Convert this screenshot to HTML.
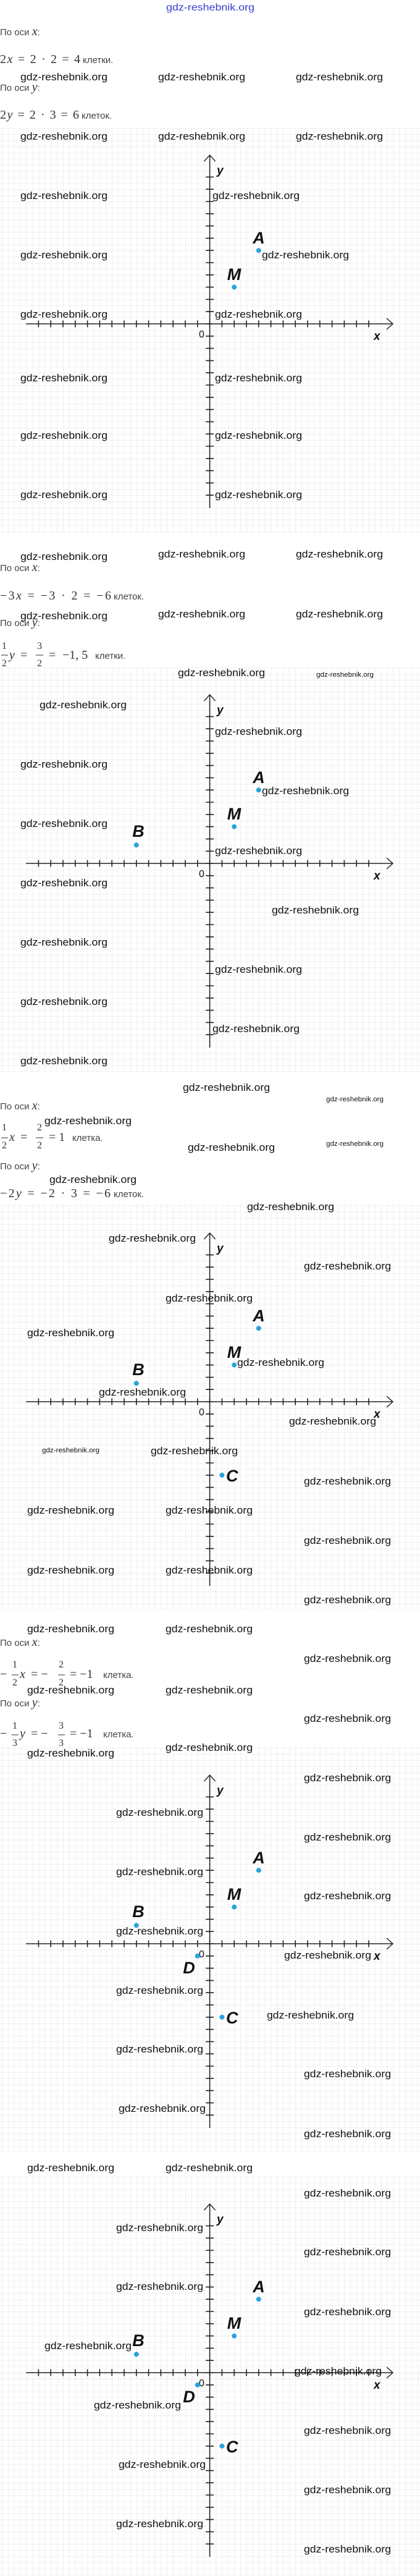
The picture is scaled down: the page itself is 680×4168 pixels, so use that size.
<!DOCTYPE html>
<html><head><meta charset="utf-8"><style>
html,body{margin:0;padding:0;background:#fff;}
svg{display:block;}
.w{font-family:"Liberation Sans",sans-serif;font-size:17px;fill:#111;}
.ws{font-family:"Liberation Sans",sans-serif;font-size:11px;fill:#111;}
.t{font-family:"Liberation Sans",sans-serif;font-size:15px;fill:#444;}
.m{font-family:"Liberation Serif",serif;font-size:20px;fill:#333;}
.f{font-family:"Liberation Serif",serif;font-size:16px;fill:#333;}
.i{font-style:italic;}
.L{font-family:"Liberation Sans Narrow","Liberation Sans",sans-serif;font-weight:bold;font-style:italic;font-size:27px;fill:#111;}
.al{font-family:"Liberation Sans",sans-serif;font-weight:bold;font-style:italic;font-size:19px;fill:#111;}
.z{font-family:"Liberation Sans",sans-serif;font-size:16px;fill:#111;}
</style></head><body>
<svg width="680" height="4168" viewBox="0 0 680 4168" xmlns="http://www.w3.org/2000/svg">
<defs>
<pattern id="g" patternUnits="userSpaceOnUse" x="339.6" y="0" width="9.9" height="9.9">
<path d="M0 0.3H9.9M0.3 0V9.9" stroke="#ebebeb" stroke-width="1" fill="none"/>
</pattern>
<g id="ax">
<line x1="42" y1="0" x2="636" y2="0" stroke="#222" stroke-width="1.6"/>
<polyline points="626,-9 636,0 626,9" fill="none" stroke="#222" stroke-width="1.4"/>
<line x1="61.6" y1="0" x2="598" y2="0" stroke="#222" stroke-width="11" stroke-dasharray="1.6 18.2"/>
<line x1="339.6" y1="-273" x2="339.6" y2="298" stroke="#222" stroke-width="1.6"/>
<polyline points="330.6,-263 339.6,-273 348.6,-263" fill="none" stroke="#222" stroke-width="1.4"/>
<line x1="339.6" y1="-238.4" x2="339.6" y2="278.2" stroke="#222" stroke-width="13" stroke-dasharray="1.6 18.2"/>
<text class="al" x="351" y="-242">y</text>
<text class="al" x="605" y="26">x</text>
<text class="z" x="322" y="22">0</text>
</g>
</defs>

<text x="269" y="17" font-family="Liberation Sans,sans-serif" font-size="16" fill="#3a3ad0" textLength="143" lengthAdjust="spacingAndGlyphs">gdz-reshebnik.org</text>

<text class="t" x="0" y="57">По оси <tspan class="m i">x</tspan>:</text>
<text class="m" x="0" y="102" textLength="130" lengthAdjust="spacing">2<tspan class="i">x</tspan> = 2 · 2 = 4</text>
<text class="t" x="134" y="102">клетки.</text>
<text class="t" x="0" y="147">По оси <tspan class="m i">y</tspan>:</text>
<text class="m" x="0" y="192" textLength="128" lengthAdjust="spacing">2<tspan class="i">y</tspan> = 2 · 3 = 6</text>
<text class="t" x="132" y="192">клеток.</text>

<g transform="translate(0,524)">
<rect x="0" y="-317" width="680" height="656" fill="url(#g)"/>
<use href="#ax"/>
<circle cx="418.8" cy="-118.8" r="4" fill="#29a3dc"/>
<circle cx="379.2" cy="-59.4" r="4" fill="#29a3dc"/>
<text class="L" x="419" y="-130" text-anchor="middle">A</text>
<text class="L" x="379" y="-71" text-anchor="middle">M</text>
</g>

<text class="t" x="0" y="924">По оси <tspan class="m i">x</tspan>:</text>
<text class="m" x="0" y="970" textLength="180" lengthAdjust="spacing">−3<tspan class="i">x</tspan> = −3 · 2 = −6</text>
<text class="t" x="184" y="970">клеток.</text>
<text class="t" x="0" y="1013">По оси <tspan class="m i">y</tspan>:</text>
<text class="f" x="3" y="1050">1</text><line x1="2" y1="1060" x2="13" y2="1060" stroke="#333" stroke-width="1"/><text class="f" x="3" y="1078">2</text>
<text class="m i" x="15" y="1066">y</text><text class="m" x="33" y="1066">=</text>
<text class="f" x="60" y="1050">3</text><line x1="58" y1="1060" x2="70" y2="1060" stroke="#333" stroke-width="1"/><text class="f" x="60" y="1078">2</text>
<text class="m" x="79" y="1066">=</text><text class="m" x="101" y="1066">−1, 5</text>
<text class="t" x="154" y="1066">клетки.</text>

<g transform="translate(0,1397)">
<rect x="0" y="-317" width="680" height="655" fill="url(#g)"/>
<use href="#ax"/>
<circle cx="418.8" cy="-118.8" r="4" fill="#29a3dc"/>
<circle cx="379.2" cy="-59.4" r="4" fill="#29a3dc"/>
<circle cx="220.8" cy="-29.7" r="4" fill="#29a3dc"/>
<text class="L" x="419" y="-130" text-anchor="middle">A</text>
<text class="L" x="379" y="-71" text-anchor="middle">M</text>
<text class="L" x="224" y="-43" text-anchor="middle">B</text>
</g>

<text class="t" x="0" y="1795">По оси <tspan class="m i">x</tspan>:</text>
<text class="f" x="3" y="1829">1</text><line x1="2" y1="1841" x2="13" y2="1841" stroke="#333" stroke-width="1"/><text class="f" x="3" y="1858">2</text>
<text class="m i" x="15" y="1846">x</text><text class="m" x="33" y="1846">=</text>
<text class="f" x="60" y="1829">2</text><line x1="58" y1="1841" x2="70" y2="1841" stroke="#333" stroke-width="1"/><text class="f" x="60" y="1858">2</text>
<text class="m" x="79" y="1846">= 1</text>
<text class="t" x="117" y="1846">клетка.</text>
<text class="t" x="0" y="1892">По оси <tspan class="m i">y</tspan>:</text>
<text class="m" x="0" y="1937" textLength="179" lengthAdjust="spacing">−2<tspan class="i">y</tspan> = −2 · 3 = −6</text>
<text class="t" x="184" y="1937">клеток.</text>

<g transform="translate(0,2268)">
<rect x="0" y="-321" width="680" height="658" fill="url(#g)"/>
<use href="#ax"/>
<circle cx="418.8" cy="-118.8" r="4" fill="#29a3dc"/>
<circle cx="379.2" cy="-59.4" r="4" fill="#29a3dc"/>
<circle cx="220.8" cy="-29.7" r="4" fill="#29a3dc"/>
<circle cx="359.4" cy="118.8" r="4" fill="#29a3dc"/>
<text class="L" x="419" y="-130" text-anchor="middle">A</text>
<text class="L" x="379" y="-71" text-anchor="middle">M</text>
<text class="L" x="224" y="-43" text-anchor="middle">B</text>
<text class="L" x="366" y="129">C</text>
</g>

<text class="t" x="0" y="2663">По оси <tspan class="m i">x</tspan>:</text>
<text class="m" x="0" y="2715">−</text>
<text class="f" x="20" y="2698">1</text><line x1="19" y1="2710" x2="30" y2="2710" stroke="#333" stroke-width="1"/><text class="f" x="20" y="2727">2</text>
<text class="m i" x="32" y="2715">x</text><text class="m" x="50" y="2715">= −</text>
<text class="f" x="95" y="2698">2</text><line x1="94" y1="2710" x2="105" y2="2710" stroke="#333" stroke-width="1"/><text class="f" x="95" y="2727">2</text>
<text class="m" x="113" y="2715">= −1</text>
<text class="t" x="167" y="2715">клетка.</text>
<text class="t" x="0" y="2761">По оси <tspan class="m i">y</tspan>:</text>
<text class="m" x="0" y="2811">−</text>
<text class="f" x="20" y="2797">1</text><line x1="19" y1="2807" x2="30" y2="2807" stroke="#333" stroke-width="1"/><text class="f" x="20" y="2825">3</text>
<text class="m i" x="32" y="2811">y</text><text class="m" x="50" y="2811">= −</text>
<text class="f" x="95" y="2797">3</text><line x1="94" y1="2807" x2="105" y2="2807" stroke="#333" stroke-width="1"/><text class="f" x="95" y="2825">3</text>
<text class="m" x="113" y="2811">= −1</text>
<text class="t" x="167" y="2811">клетка.</text>

<g transform="translate(0,3145)">
<rect x="0" y="-320" width="680" height="657" fill="url(#g)"/>
<use href="#ax"/>
<circle cx="418.8" cy="-118.8" r="4" fill="#29a3dc"/>
<circle cx="379.2" cy="-59.4" r="4" fill="#29a3dc"/>
<circle cx="220.8" cy="-29.7" r="4" fill="#29a3dc"/>
<circle cx="359.4" cy="118.8" r="4" fill="#29a3dc"/>
<circle cx="319.8" cy="19.8" r="4" fill="#29a3dc"/>
<text class="L" x="419" y="-130" text-anchor="middle">A</text>
<text class="L" x="379" y="-71" text-anchor="middle">M</text>
<text class="L" x="224" y="-43" text-anchor="middle">B</text>
<text class="L" x="366" y="129">C</text>
<text class="L" x="306" y="48" text-anchor="middle">D</text>
</g>

<g transform="translate(0,3839)">
<rect x="0" y="-318" width="680" height="330" fill="url(#g)"/>
<rect x="0" y="0" width="680" height="329" fill="url(#g)"/>
<use href="#ax"/>
<circle cx="418.8" cy="-118.8" r="4" fill="#29a3dc"/>
<circle cx="379.2" cy="-59.4" r="4" fill="#29a3dc"/>
<circle cx="220.8" cy="-29.7" r="4" fill="#29a3dc"/>
<circle cx="359.4" cy="118.8" r="4" fill="#29a3dc"/>
<circle cx="319.8" cy="19.8" r="4" fill="#29a3dc"/>
<text class="L" x="419" y="-130" text-anchor="middle">A</text>
<text class="L" x="379" y="-71" text-anchor="middle">M</text>
<text class="L" x="224" y="-43" text-anchor="middle">B</text>
<text class="L" x="366" y="129">C</text>
<text class="L" x="306" y="48" text-anchor="middle">D</text>
</g>

<g>
<text class="w" textLength="141" lengthAdjust="spacingAndGlyphs" x="33" y="130">gdz-reshebnik.org</text>
<text class="w" textLength="141" lengthAdjust="spacingAndGlyphs" x="256" y="130">gdz-reshebnik.org</text>
<text class="w" textLength="141" lengthAdjust="spacingAndGlyphs" x="479" y="130">gdz-reshebnik.org</text>
<text class="w" textLength="141" lengthAdjust="spacingAndGlyphs" x="33" y="226">gdz-reshebnik.org</text>
<text class="w" textLength="141" lengthAdjust="spacingAndGlyphs" x="256" y="226">gdz-reshebnik.org</text>
<text class="w" textLength="141" lengthAdjust="spacingAndGlyphs" x="479" y="226">gdz-reshebnik.org</text>
<text class="w" textLength="141" lengthAdjust="spacingAndGlyphs" x="33" y="322">gdz-reshebnik.org</text>
<text class="w" textLength="141" lengthAdjust="spacingAndGlyphs" x="344" y="322">gdz-reshebnik.org</text>
<text class="w" textLength="141" lengthAdjust="spacingAndGlyphs" x="33" y="418">gdz-reshebnik.org</text>
<text class="w" textLength="141" lengthAdjust="spacingAndGlyphs" x="424" y="418">gdz-reshebnik.org</text>
<text class="w" textLength="141" lengthAdjust="spacingAndGlyphs" x="33" y="514">gdz-reshebnik.org</text>
<text class="w" textLength="141" lengthAdjust="spacingAndGlyphs" x="348" y="514">gdz-reshebnik.org</text>
<text class="w" textLength="141" lengthAdjust="spacingAndGlyphs" x="33" y="617">gdz-reshebnik.org</text>
<text class="w" textLength="141" lengthAdjust="spacingAndGlyphs" x="348" y="617">gdz-reshebnik.org</text>
<text class="w" textLength="141" lengthAdjust="spacingAndGlyphs" x="33" y="710">gdz-reshebnik.org</text>
<text class="w" textLength="141" lengthAdjust="spacingAndGlyphs" x="348" y="710">gdz-reshebnik.org</text>
<text class="w" textLength="141" lengthAdjust="spacingAndGlyphs" x="33" y="806">gdz-reshebnik.org</text>
<text class="w" textLength="141" lengthAdjust="spacingAndGlyphs" x="348" y="806">gdz-reshebnik.org</text>
<text class="w" textLength="141" lengthAdjust="spacingAndGlyphs" x="33" y="906">gdz-reshebnik.org</text>
<text class="w" textLength="141" lengthAdjust="spacingAndGlyphs" x="256" y="902">gdz-reshebnik.org</text>
<text class="w" textLength="141" lengthAdjust="spacingAndGlyphs" x="479" y="902">gdz-reshebnik.org</text>
<text class="w" textLength="141" lengthAdjust="spacingAndGlyphs" x="33" y="1002">gdz-reshebnik.org</text>
<text class="w" textLength="141" lengthAdjust="spacingAndGlyphs" x="256" y="999">gdz-reshebnik.org</text>
<text class="w" textLength="141" lengthAdjust="spacingAndGlyphs" x="479" y="999">gdz-reshebnik.org</text>
<text class="w" textLength="141" lengthAdjust="spacingAndGlyphs" x="288" y="1094">gdz-reshebnik.org</text>
<text class="ws" textLength="93" lengthAdjust="spacingAndGlyphs" x="512" y="1095">gdz-reshebnik.org</text>
<text class="w" textLength="141" lengthAdjust="spacingAndGlyphs" x="64" y="1146">gdz-reshebnik.org</text>
<text class="w" textLength="141" lengthAdjust="spacingAndGlyphs" x="348" y="1189">gdz-reshebnik.org</text>
<text class="w" textLength="141" lengthAdjust="spacingAndGlyphs" x="33" y="1242">gdz-reshebnik.org</text>
<text class="w" textLength="141" lengthAdjust="spacingAndGlyphs" x="424" y="1285">gdz-reshebnik.org</text>
<text class="w" textLength="141" lengthAdjust="spacingAndGlyphs" x="33" y="1338">gdz-reshebnik.org</text>
<text class="w" textLength="141" lengthAdjust="spacingAndGlyphs" x="348" y="1382">gdz-reshebnik.org</text>
<text class="w" textLength="141" lengthAdjust="spacingAndGlyphs" x="33" y="1434">gdz-reshebnik.org</text>
<text class="w" textLength="141" lengthAdjust="spacingAndGlyphs" x="440" y="1478">gdz-reshebnik.org</text>
<text class="w" textLength="141" lengthAdjust="spacingAndGlyphs" x="33" y="1530">gdz-reshebnik.org</text>
<text class="w" textLength="141" lengthAdjust="spacingAndGlyphs" x="348" y="1574">gdz-reshebnik.org</text>
<text class="w" textLength="141" lengthAdjust="spacingAndGlyphs" x="33" y="1626">gdz-reshebnik.org</text>
<text class="w" textLength="141" lengthAdjust="spacingAndGlyphs" x="344" y="1670">gdz-reshebnik.org</text>
<text class="w" textLength="141" lengthAdjust="spacingAndGlyphs" x="33" y="1722">gdz-reshebnik.org</text>
<text class="w" textLength="141" lengthAdjust="spacingAndGlyphs" x="296" y="1765">gdz-reshebnik.org</text>
<text class="ws" textLength="93" lengthAdjust="spacingAndGlyphs" x="528" y="1782">gdz-reshebnik.org</text>
<text class="w" textLength="141" lengthAdjust="spacingAndGlyphs" x="72" y="1819">gdz-reshebnik.org</text>
<text class="w" textLength="141" lengthAdjust="spacingAndGlyphs" x="304" y="1862">gdz-reshebnik.org</text>
<text class="ws" textLength="93" lengthAdjust="spacingAndGlyphs" x="528" y="1854">gdz-reshebnik.org</text>
<text class="w" textLength="141" lengthAdjust="spacingAndGlyphs" x="80" y="1914">gdz-reshebnik.org</text>
<text class="w" textLength="141" lengthAdjust="spacingAndGlyphs" x="400" y="1958">gdz-reshebnik.org</text>
<text class="w" textLength="141" lengthAdjust="spacingAndGlyphs" x="176" y="2009">gdz-reshebnik.org</text>
<text class="w" textLength="141" lengthAdjust="spacingAndGlyphs" x="492" y="2054">gdz-reshebnik.org</text>
<text class="w" textLength="141" lengthAdjust="spacingAndGlyphs" x="268" y="2106">gdz-reshebnik.org</text>
<text class="w" textLength="141" lengthAdjust="spacingAndGlyphs" x="44" y="2162">gdz-reshebnik.org</text>
<text class="w" textLength="141" lengthAdjust="spacingAndGlyphs" x="384" y="2210">gdz-reshebnik.org</text>
<text class="w" textLength="141" lengthAdjust="spacingAndGlyphs" x="160" y="2258">gdz-reshebnik.org</text>
<text class="w" textLength="141" lengthAdjust="spacingAndGlyphs" x="468" y="2305">gdz-reshebnik.org</text>
<text class="ws" textLength="93" lengthAdjust="spacingAndGlyphs" x="68" y="2350">gdz-reshebnik.org</text>
<text class="w" textLength="141" lengthAdjust="spacingAndGlyphs" x="244" y="2353">gdz-reshebnik.org</text>
<text class="w" textLength="141" lengthAdjust="spacingAndGlyphs" x="492" y="2402">gdz-reshebnik.org</text>
<text class="w" textLength="141" lengthAdjust="spacingAndGlyphs" x="44" y="2449">gdz-reshebnik.org</text>
<text class="w" textLength="141" lengthAdjust="spacingAndGlyphs" x="268" y="2449">gdz-reshebnik.org</text>
<text class="w" textLength="141" lengthAdjust="spacingAndGlyphs" x="492" y="2498">gdz-reshebnik.org</text>
<text class="w" textLength="141" lengthAdjust="spacingAndGlyphs" x="44" y="2546">gdz-reshebnik.org</text>
<text class="w" textLength="141" lengthAdjust="spacingAndGlyphs" x="268" y="2546">gdz-reshebnik.org</text>
<text class="w" textLength="141" lengthAdjust="spacingAndGlyphs" x="492" y="2594">gdz-reshebnik.org</text>
<text class="w" textLength="141" lengthAdjust="spacingAndGlyphs" x="44" y="2641">gdz-reshebnik.org</text>
<text class="w" textLength="141" lengthAdjust="spacingAndGlyphs" x="268" y="2641">gdz-reshebnik.org</text>
<text class="w" textLength="141" lengthAdjust="spacingAndGlyphs" x="492" y="2689">gdz-reshebnik.org</text>
<text class="w" textLength="141" lengthAdjust="spacingAndGlyphs" x="44" y="2740">gdz-reshebnik.org</text>
<text class="w" textLength="141" lengthAdjust="spacingAndGlyphs" x="268" y="2740">gdz-reshebnik.org</text>
<text class="w" textLength="141" lengthAdjust="spacingAndGlyphs" x="492" y="2786">gdz-reshebnik.org</text>
<text class="w" textLength="141" lengthAdjust="spacingAndGlyphs" x="268" y="2833">gdz-reshebnik.org</text>
<text class="w" textLength="141" lengthAdjust="spacingAndGlyphs" x="44" y="2842">gdz-reshebnik.org</text>
<text class="w" textLength="141" lengthAdjust="spacingAndGlyphs" x="492" y="2882">gdz-reshebnik.org</text>
<text class="w" textLength="141" lengthAdjust="spacingAndGlyphs" x="188" y="2938">gdz-reshebnik.org</text>
<text class="w" textLength="141" lengthAdjust="spacingAndGlyphs" x="492" y="2978">gdz-reshebnik.org</text>
<text class="w" textLength="141" lengthAdjust="spacingAndGlyphs" x="188" y="3034">gdz-reshebnik.org</text>
<text class="w" textLength="141" lengthAdjust="spacingAndGlyphs" x="492" y="3073">gdz-reshebnik.org</text>
<text class="w" textLength="141" lengthAdjust="spacingAndGlyphs" x="188" y="3130">gdz-reshebnik.org</text>
<text class="w" textLength="141" lengthAdjust="spacingAndGlyphs" x="460" y="3169">gdz-reshebnik.org</text>
<text class="w" textLength="141" lengthAdjust="spacingAndGlyphs" x="188" y="3226">gdz-reshebnik.org</text>
<text class="w" textLength="141" lengthAdjust="spacingAndGlyphs" x="432" y="3266">gdz-reshebnik.org</text>
<text class="w" textLength="141" lengthAdjust="spacingAndGlyphs" x="188" y="3321">gdz-reshebnik.org</text>
<text class="w" textLength="141" lengthAdjust="spacingAndGlyphs" x="492" y="3361">gdz-reshebnik.org</text>
<text class="w" textLength="141" lengthAdjust="spacingAndGlyphs" x="192" y="3417">gdz-reshebnik.org</text>
<text class="w" textLength="141" lengthAdjust="spacingAndGlyphs" x="492" y="3458">gdz-reshebnik.org</text>
<text class="w" textLength="141" lengthAdjust="spacingAndGlyphs" x="44" y="3513">gdz-reshebnik.org</text>
<text class="w" textLength="141" lengthAdjust="spacingAndGlyphs" x="268" y="3513">gdz-reshebnik.org</text>
<text class="w" textLength="141" lengthAdjust="spacingAndGlyphs" x="492" y="3554">gdz-reshebnik.org</text>
<text class="w" textLength="141" lengthAdjust="spacingAndGlyphs" x="188" y="3610">gdz-reshebnik.org</text>
<text class="w" textLength="141" lengthAdjust="spacingAndGlyphs" x="492" y="3649">gdz-reshebnik.org</text>
<text class="w" textLength="141" lengthAdjust="spacingAndGlyphs" x="188" y="3705">gdz-reshebnik.org</text>
<text class="w" textLength="141" lengthAdjust="spacingAndGlyphs" x="492" y="3746">gdz-reshebnik.org</text>
<text class="w" textLength="141" lengthAdjust="spacingAndGlyphs" x="72" y="3801">gdz-reshebnik.org</text>
<text class="w" textLength="141" lengthAdjust="spacingAndGlyphs" x="477" y="3842">gdz-reshebnik.org</text>
<text class="w" textLength="141" lengthAdjust="spacingAndGlyphs" x="152" y="3897">gdz-reshebnik.org</text>
<text class="w" textLength="141" lengthAdjust="spacingAndGlyphs" x="492" y="3938">gdz-reshebnik.org</text>
<text class="w" textLength="141" lengthAdjust="spacingAndGlyphs" x="192" y="3993">gdz-reshebnik.org</text>
<text class="w" textLength="141" lengthAdjust="spacingAndGlyphs" x="492" y="4034">gdz-reshebnik.org</text>
<text class="w" textLength="141" lengthAdjust="spacingAndGlyphs" x="188" y="4089">gdz-reshebnik.org</text>
<text class="w" textLength="141" lengthAdjust="spacingAndGlyphs" x="492" y="4130">gdz-reshebnik.org</text>
</g>
</svg>
</body></html>
